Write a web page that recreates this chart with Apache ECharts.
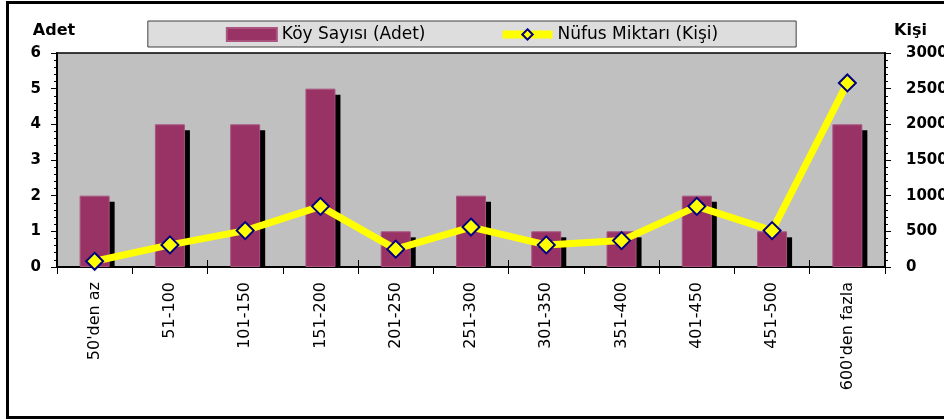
<!DOCTYPE html>
<html>
<head>
<meta charset="utf-8">
<title>Köy Sayısı ve Nüfus Miktarı</title>
<script src="https://cdn.jsdelivr.net/npm/echarts@6/dist/echarts.min.js"></script>
<style>
    html, body { margin: 0; padding: 0; background: #fff; }
    #chart { width: 944px; height: 419px; }
</style>
</head>
<body>
<div id="chart"></div>
<script>
// veriler
var kategoriler = ["50'den az", '51-100', '101-150', '151-200', '201-250', '251-300',
    '301-350', '351-400', '401-450', '451-500', "600'den fazla"];
var koySayisi = [2, 4, 4, 5, 1, 2, 1, 1, 2, 1, 4];
var nufusMiktari = [80, 310, 510, 850, 250, 560, 310, 370, 850, 510, 2580];

// eksen ölçekleri
var adetMin = 0, adetMax = 6, adetAralik = 1;
var kisiMin = 0, kisiMax = 3000, kisiAralik = 500;

var yazi = 'DejaVu Sans';
var barGenislik = 30;

var chart = echarts.init(document.getElementById('chart'));

// gölge için [index, değer] çiftleri
var golgeData = koySayisi.map(function (v, i) { return [i, v]; });

function yEksen(ad, min, max, aralik, konum, isimStil) {
    return {
        type: 'value',
        position: konum,
        name: ad,
        nameLocation: 'end',
        nameGap: 14,
        nameTextStyle: isimStil,
        min: min,
        max: max,
        interval: aralik,
        axisLine: { show: true, lineStyle: { color: '#000', width: 2 } },
        axisTick: { show: true, length: 6, lineStyle: { color: '#000', width: 1 } },
        minorTick: { show: true, splitNumber: 5, length: 3, lineStyle: { color: '#000', width: 1 } },
        splitLine: { show: false },
        minorSplitLine: { show: false },
        axisLabel: {
            color: '#000',
            fontFamily: yazi,
            fontWeight: 'bold',
            fontSize: 15,
            margin: konum === 'left' ? 16 : 21,
            formatter: function (v) { return String(v); }
        }
    };
}

chart.setOption({
    animation: false,
    backgroundColor: '#fff',
    graphic: [{
        // dış çerçeve (sağ kenar resmin dışında kalıyor)
        type: 'polyline',
        shape: { points: [[1100, 2.5], [7.5, 2.5], [7.5, 417.5], [1100, 417.5]] },
        style: { fill: 'none', stroke: '#000', lineWidth: 3 },
        silent: true
    }],
    legend: {
        left: 'center',
        top: 21,
        padding: [5, 78, 4, 78],
        backgroundColor: '#DDDDDD',
        borderColor: '#404040',
        borderWidth: 1,
        itemWidth: 50,
        itemHeight: 13,
        itemGap: 73,
        textStyle: { color: '#000', fontFamily: yazi, fontSize: 17 },
        data: [
            { name: 'Köy Sayısı (Adet)', icon: 'rect' },
            { name: 'Nüfus Miktarı (Kişi)', lineStyle: { width: 8 } }
        ]
    },
    grid: {
        left: 57,
        right: 59,
        top: 53,
        bottom: 152,
        containLabel: false,
        outerBoundsMode: 'none',
        show: true,
        backgroundColor: '#C0C0C0',
        borderColor: '#000',
        borderWidth: 1.5
    },
    xAxis: [{
        type: 'category',
        data: kategoriler,
        boundaryGap: true,
        axisLine: { lineStyle: { color: '#000', width: 2 } },
        axisTick: { show: true, length: 7, lineStyle: { color: '#000', width: 1 } },
        axisLabel: {
            interval: 0,
            rotate: 90,
            margin: 15,
            color: '#000',
            fontFamily: yazi,
            fontSize: 16
        }
    }, {
        // eksenin içine doğru uzanan tik çizgileri
        type: 'category',
        data: kategoriler,
        position: 'bottom',
        boundaryGap: true,
        axisLine: { show: false },
        axisTick: { show: true, inside: true, length: 7, lineStyle: { color: '#000', width: 1 } },
        axisLabel: { show: false }
    }],
    yAxis: [
        yEksen('Adet', adetMin, adetMax, adetAralik, 'left',
            { color: '#000', fontFamily: yazi, fontWeight: 'bold', fontSize: 16, padding: [0, 6, 0, 0] }),
        yEksen('Kişi', kisiMin, kisiMax, kisiAralik, 'right',
            { color: '#000', fontFamily: yazi, fontWeight: 'bold', fontSize: 16, align: 'left', padding: [0, 0, 0, 9] })
    ],
    series: [{
        name: 'gölge',
        type: 'custom',
        z: 1,
        yAxisIndex: 0,
        data: golgeData,
        renderItem: function (params, api) {
            var i = api.value(0);
            var ust = api.coord([i, api.value(1)]);
            var alt = api.coord([i, 0]);
            return {
                type: 'rect',
                shape: {
                    x: ust[0] - barGenislik / 2 + 5,
                    y: ust[1] + 6,
                    width: barGenislik,
                    height: alt[1] - ust[1] - 6
                },
                style: { fill: '#000' }
            };
        }
    }, {
        name: 'Köy Sayısı (Adet)',
        type: 'bar',
        z: 2,
        yAxisIndex: 0,
        barWidth: barGenislik,
        itemStyle: { color: '#993366', borderColor: '#a9557f', borderWidth: 1 },
        data: koySayisi
    }, {
        name: 'Nüfus Miktarı (Kişi)',
        type: 'line',
        z: 5,
        yAxisIndex: 1,
        symbol: 'diamond',
        symbolSize: 17,
        lineStyle: { color: '#FFFF00', width: 7 },
        itemStyle: { color: '#FFFF00', borderColor: '#000080', borderWidth: 2 },
        data: nufusMiktari
    }]
});
</script>
</body>
</html>
